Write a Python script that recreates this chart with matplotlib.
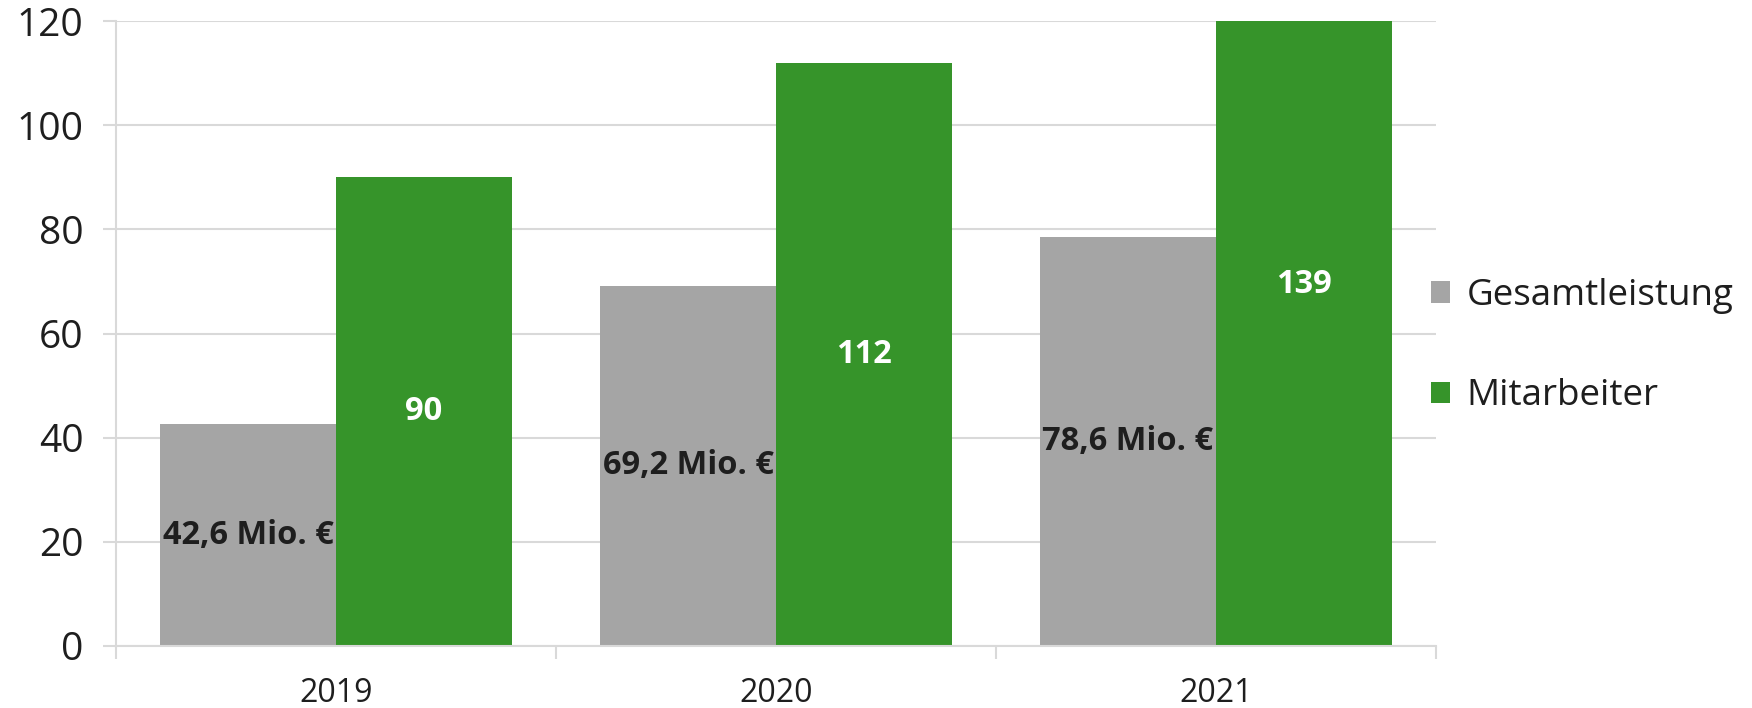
import numpy as np
import matplotlib.pyplot as plt

years = ['2019', '2020', '2021']
gesamtleistung = [42.6, 69.2, 78.6]
mitarbeiter = [90, 112, 139]
gesamt_labels = ['42,6 Mio. €', '69,2 Mio. €', '78,6 Mio. €']
series_names = ['Gesamtleistung', 'Mitarbeiter']

grey = '#a5a5a5'
green = '#36942a'
grid_c = '#d9d9d9'
text_c = '#1e1e1e'

plt.rcParams['font.family'] = ['Open Sans', 'DejaVu Sans']

fig, ax = plt.subplots(figsize=(17.52, 7.08), dpi=100)
fig.subplots_adjust(left=0.0663, right=0.8196, bottom=0.0876, top=0.970)

x = np.arange(len(years))
w = 0.4
b1 = ax.bar(x - w / 2, gesamtleistung, width=w, color=grey, label=series_names[0], zorder=2)
b2 = ax.bar(x + w / 2, mitarbeiter, width=w, color=green, label=series_names[1], zorder=2)

# labels centred in the bars
for rect, val, txt in zip(b1, gesamtleistung, gesamt_labels):
    ax.text(rect.get_x() + rect.get_width() / 2, val / 2, txt,
            ha='center', va='center', fontsize=23.5, fontweight='bold',
            color=text_c, zorder=3)
for rect, val in zip(b2, mitarbeiter):
    ax.text(rect.get_x() + rect.get_width() / 2, val / 2, str(val),
            ha='center', va='center', fontsize=23.5, fontweight='bold',
            color='white', zorder=3)

ax.set_ylim(0, 120)
ax.set_xlim(-0.5, len(years) - 0.5)
ax.set_yticks(np.arange(0, 121, 20))
ax.set_xticks(x)
ax.set_xticklabels(years)
ax.set_xticks(np.arange(-0.5, len(years), 1), minor=True)

ax.yaxis.grid(True, color=grid_c, linewidth=1.5, zorder=0)
ax.set_axisbelow(True)

for side in ['top', 'right']:
    ax.spines[side].set_visible(False)
for side in ['left', 'bottom']:
    ax.spines[side].set_color(grid_c)
    ax.spines[side].set_linewidth(1.5)

ax.tick_params(axis='y', length=9.4, width=1.5, color=grid_c, pad=14,
               labelsize=28, labelcolor=text_c)
ax.tick_params(axis='x', which='major', length=0, pad=22,
               labelsize=23, labelcolor=text_c)
ax.tick_params(axis='x', which='minor', length=9.4, width=1.5, color=grid_c)

leg = ax.legend(loc='center left', bbox_to_anchor=(0.996, 0.48),
                frameon=False, fontsize=26.5, borderaxespad=0, borderpad=0,
                handlelength=0.52, handleheight=0.52, handletextpad=0.45,
                labelspacing=1.75)
for t in leg.get_texts():
    t.set_color(text_c)

plt.savefig('out.png', dpi=100)
